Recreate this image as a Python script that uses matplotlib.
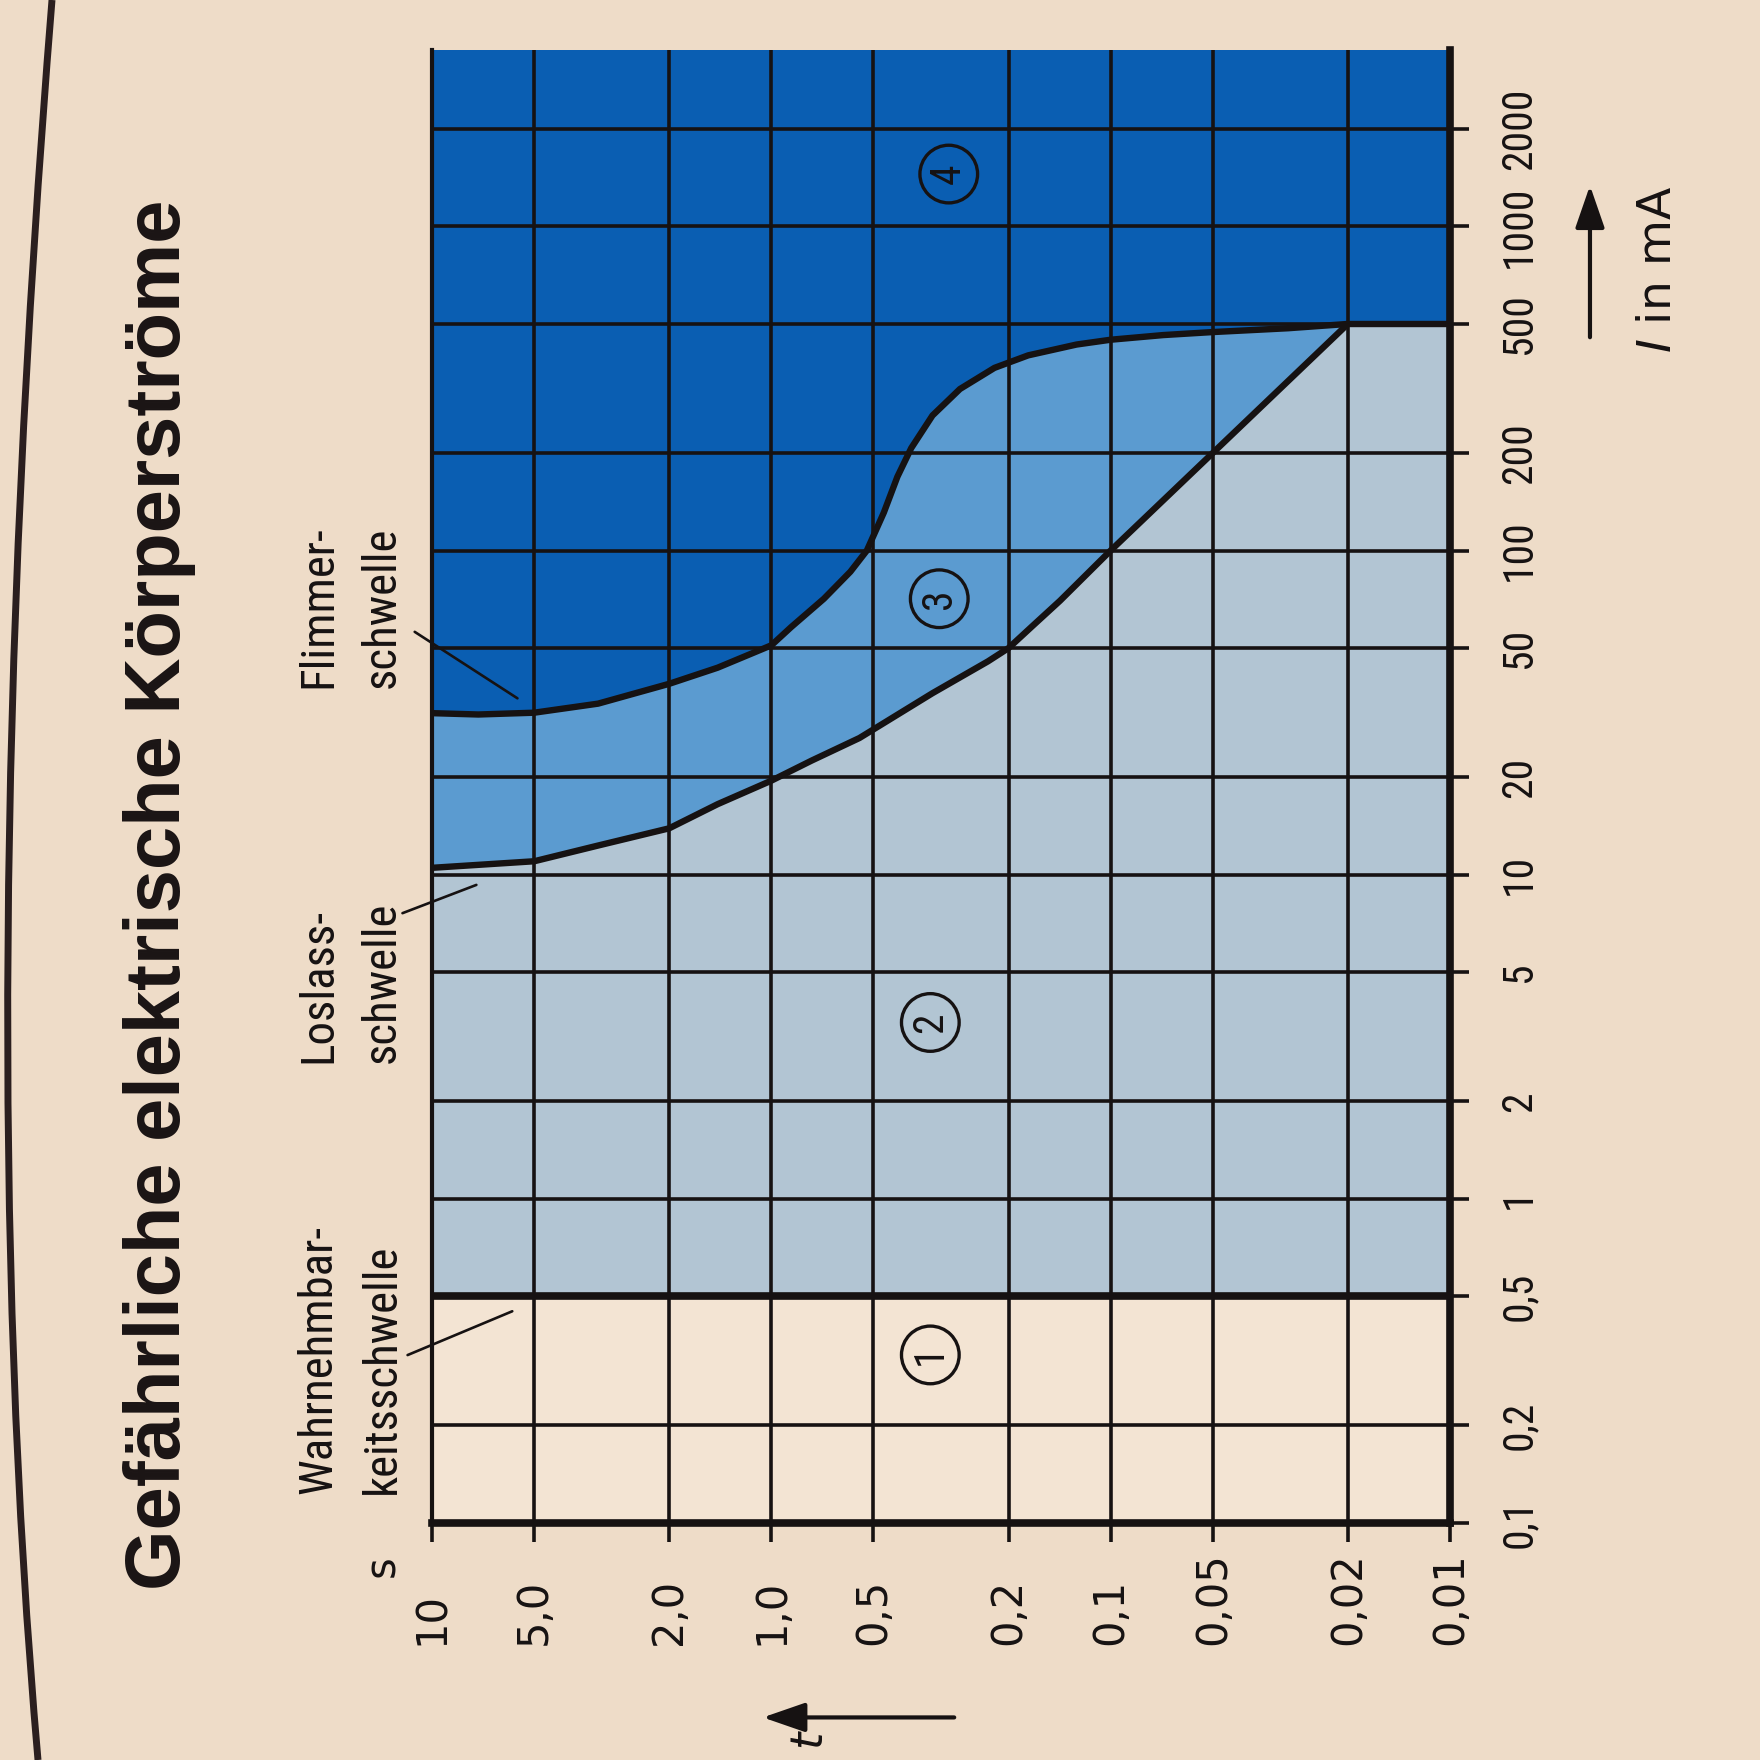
import matplotlib
matplotlib.use("Agg")
import matplotlib.pyplot as plt
from matplotlib import font_manager
from matplotlib.path import Path
from matplotlib.patches import PathPatch
import matplotlib.transforms as mtransforms

# ---------------- data ----------------
time_ticks = [10, 5, 2, 1, 0.5, 0.2, 0.1, 0.05, 0.02, 0.01]
time_labels = ["10", "5,0", "2,0", "1,0", "0,5", "0,2", "0,1", "0,05", "0,02", "0,01"]
current_ticks = [0.1, 0.2, 0.5, 1, 2, 5, 10, 20, 50, 100, 200, 500, 1000, 2000]
current_labels = ["0,1", "0,2", "0,5", "1", "2", "5", "10", "20", "50", "100",
                  "200", "500", "1000", "2000"]
current_max = 3500

perception_I = 0.5
loslass_t = [10, 5, 3.24, 2, 1.44, 1, 0.76, 0.55, 0.335, 0.23, 0.2, 0.17, 0.141,
             0.1, 0.05, 0.02]
loslass_I = [10.5, 11, 12.3, 13.9, 16.5, 19.5, 22.5, 26.4, 36.3, 45.5, 50, 58.5, 70,
             100, 200, 500]
flimmer_t = [10, 7.3, 5, 3.24, 2, 1.44, 1, 0.875, 0.70, 0.585, 0.523, 0.466, 0.425,
             0.387, 0.335, 0.278, 0.22, 0.175, 0.126, 0.1, 0.07, 0.05, 0.03, 0.02]
flimmer_I = [31.5, 31.2, 31.6, 33.7, 38.8, 43.5, 51, 58, 71, 86, 100, 131, 169,
             207, 261, 315, 366, 400, 432, 447, 462, 472, 485, 500]
limit_t = [0.02, 0.01]
limit_I = [500, 500]

zone_labels = ["1", "2", "3", "4"]
zone_t = [0.34, 0.34, 0.32, 0.30]
zone_I = [0.33, 3.5, 71, 1450]

threshold_names = ["Wahrnehmbar-\nkeitsschwelle", "Loslass-\nschwelle", "Flimmer-\nschwelle"]
threshold_point_t = [5.8, 7.4, 5.6]
threshold_point_I = [0.45, 9.3, 35]

title = "Gefährliche elektrische Körperströme"

# ---------------- style ----------------
PAPER = "#eedcc8"
ZONE1 = "#f3e4d3"
ZONE2 = "#b2c5d3"
ZONE3 = "#5b9bd0"
ZONE4 = "#0a5eb2"
INK = "#161212"


def pick_narrow():
    ttf = font_manager.fontManager.ttflist
    names = {f.name for f in ttf}
    for cand in ["Liberation Sans Narrow", "Roboto Condensed", "Open Sans Condensed"]:
        if cand in names:
            return dict(family=cand), True
    if any(f.name == "DejaVu Sans" and str(f.stretch) in ("condensed", "semi-condensed")
           for f in ttf):
        return dict(family="DejaVu Sans", stretch="condensed"), True
    return dict(family="DejaVu Sans"), False


NARROW, IS_NARROW = pick_narrow()
k = 1.25 if IS_NARROW else 1.0

fig = plt.figure(figsize=(17.6, 17.6), dpi=100, facecolor=PAPER)
ax = fig.add_axes([432 / 1760, 237 / 1760, 1018 / 1760, 1473 / 1760])
ax.set_xscale("log")
ax.set_yscale("log")
ax.set_xlim(time_ticks[0], time_ticks[-1])
ax.set_ylim(current_ticks[0], current_max)
ax.set_facecolor(ZONE1)

# zones
ax.axhspan(perception_I, current_max, color=ZONE2, lw=0, zorder=0.5)
ax.fill(loslass_t + flimmer_t[::-1], loslass_I + flimmer_I[::-1],
        color=ZONE3, lw=0, zorder=0.6)
ax.fill(flimmer_t + limit_t[1:] + [limit_t[-1], time_ticks[0]],
        flimmer_I + limit_I[1:] + [current_max, current_max],
        color=ZONE4, lw=0, zorder=0.7)

# grid
ax.set_xticks(time_ticks)
ax.set_yticks(current_ticks)
ax.minorticks_off()
ax.set_axisbelow(False)
ax.grid(True, color=INK, lw=2.6)
ax.tick_params(axis="x", bottom=True, top=False, labelbottom=False,
               direction="out", length=14, width=2.6, color=INK)
ax.tick_params(axis="y", left=False, right=True, labelleft=False, labelright=False,
               direction="out", length=14, width=2.6, color=INK)
ax.spines["top"].set_visible(False)
ax.spines["left"].set_linewidth(3)
ax.spines["bottom"].set_linewidth(5.5)
ax.spines["right"].set_linewidth(5.5)
for s in ax.spines.values():
    s.set_color(INK)

# threshold curves
kw = dict(color=INK, lw=4.6, zorder=4, solid_capstyle="round", solid_joinstyle="round")
ax.plot(loslass_t, loslass_I, **kw)
ax.plot(flimmer_t, flimmer_I, **kw)
ax.plot(limit_t, limit_I, **kw)
ax.axhline(perception_I, color=INK, lw=5.5, zorder=4)

# tick labels as rotated text
xt = mtransforms.blended_transform_factory(ax.transData, ax.transAxes)
for t, lab in zip(time_ticks, time_labels):
    ax.text(t, -0.083, lab, transform=xt, rotation=90, ha="center", va="bottom",
            fontsize=30, family="DejaVu Sans", color=INK, clip_on=False)
yt = mtransforms.blended_transform_factory(ax.transAxes, ax.transData)
for I, lab in zip(current_ticks, current_labels):
    ax.text(1.068, I, lab, transform=yt, rotation=90, ha="center", va="center",
            fontsize=24 * k, color=INK, clip_on=False, **NARROW)

# unit "s"
ax.text(-0.049, -0.029, "s", transform=ax.transAxes, rotation=90, ha="center",
        va="center", fontsize=30, family="DejaVu Sans", color=INK)

# threshold annotations
text_y = [0.020, 0.312, 0.567]
lead_start = [(-0.024, 0.114), (-0.029, 0.414), (-0.017, 0.605)]
for name, ty, st, pt, pI in zip(threshold_names, text_y, lead_start,
                                threshold_point_t, threshold_point_I):
    ax.text(-0.0805, ty, name, transform=ax.transAxes, rotation=90, ha="center",
            va="bottom", multialignment="left", linespacing=1.55,
            fontsize=27 * k, color=INK, **NARROW)
    ax.annotate("", xy=(pt, pI), xycoords="data", xytext=st,
                textcoords="axes fraction", annotation_clip=False,
                arrowprops=dict(arrowstyle="-", lw=1.9, color=INK,
                                shrinkA=0, shrinkB=0), zorder=5)

# zone numbers
for lab, t, I in zip(zone_labels, zone_t, zone_I):
    ax.text(t, I, lab, rotation=90, ha="center", va="center", fontsize=24 * k,
            color=INK, zorder=6, **NARROW,
            bbox=dict(boxstyle="circle,pad=0.2", fc="none", ec=INK, lw=2.4))

# axis arrows and names
ax.annotate("", xy=(1.1375, 0.908), xytext=(1.1375, 0.805), xycoords="axes fraction",
            annotation_clip=False,
            arrowprops=dict(arrowstyle="-|>,head_length=1.3,head_width=0.45",
                            lw=3, color=INK, mutation_scale=20, shrinkA=0, shrinkB=0))
ax.text(1.205, 0.851, r"$I$ in mA", transform=ax.transAxes, rotation=90,
        ha="center", va="center", fontsize=34, color=INK)
ax.annotate("", xy=(0.325, -0.132), xytext=(0.513, -0.132), xycoords="axes fraction",
            annotation_clip=False,
            arrowprops=dict(arrowstyle="-|>,head_length=1.3,head_width=0.45",
                            lw=3, color=INK, mutation_scale=20, shrinkA=0, shrinkB=0))
ax.text(0.369, -0.146, "t", transform=ax.transAxes, rotation=90, ha="center",
        va="center", fontsize=32, style="italic", color=INK)

# title
fig.text(160 / 1760, 1 - 895 / 1760, title, rotation=90, ha="center", va="center",
         fontsize=56, fontweight="bold", family=["Liberation Sans", "DejaVu Sans"],
         color="#1a1414")

# page border curve on the far left
verts = [(52 / 1760, 1.0), (-29 / 1760, 1 - 1000 / 1760), (38 / 1760, 0.0)]
path = Path(verts, [Path.MOVETO, Path.CURVE3, Path.CURVE3])
fig.patches.append(PathPatch(path, transform=fig.transFigure, fill=False, lw=5,
                             ec="#2b1f1f"))

fig.savefig("out.png", dpi=100, facecolor=PAPER)
